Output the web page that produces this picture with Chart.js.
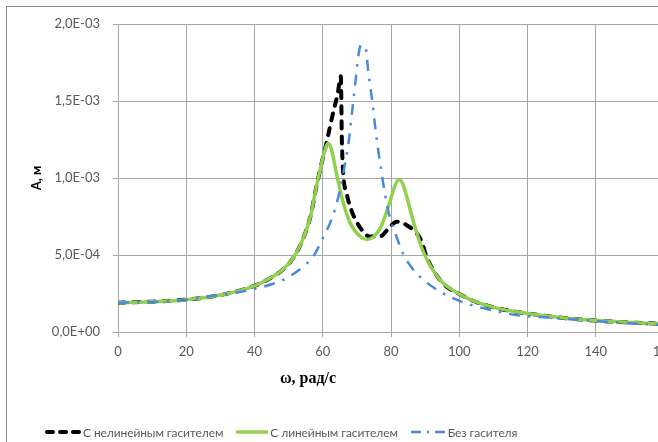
<!DOCTYPE html>
<html lang="ru">
<head>
<meta charset="utf-8">
<title>Амплитуда колебаний</title>
<script src="https://cdn.jsdelivr.net/npm/chart.js@4.4.1/dist/chart.umd.min.js"></script>
<style>
  html, body { margin: 0; padding: 0; background: #fff; width: 658px; height: 442px; overflow: hidden; }
  .frame { position: absolute; left: 6px; top: 6px; width: 720px; height: 520px; border: 1px solid #8c8c8c; }
  .plot { position: absolute; left: 0; top: 0; width: 700px; height: 442px; }
  .x-title {
    position: absolute; left: 308px; top: 378px; transform: translate(-50%, -50%);
    font: bold 16px "Liberation Serif", "DejaVu Serif", serif; color: #000; white-space: nowrap;
  }
  .legend {
    position: absolute; left: 45px; top: 424px; height: 16px; display: flex; align-items: center;
    font: 12px Lato, "Open Sans", sans-serif; letter-spacing: -0.1px; color: #595959; white-space: nowrap;
  }
  .legend .item { display: flex; align-items: center; margin-right: 13px; }
  .legend svg { margin-right: 2px; }
</style>
</head>
<body>
<div class="frame"></div>
<div class="plot"><canvas id="chart" width="700" height="442"></canvas></div>
<div class="x-title">ω, рад/с</div>
<div class="legend">
  <span class="item">
    <svg width="36" height="8"><line x1="2" y1="4" x2="34" y2="4" stroke="#000" stroke-width="4" stroke-linecap="round" stroke-dasharray="6 7"/></svg>
    С нелинейным гасителем
  </span>
  <span class="item">
    <svg width="32" height="8"><line x1="0" y1="4" x2="32" y2="4" stroke="#92d050" stroke-width="3.5"/></svg>
    С линейным гасителем
  </span>
  <span class="item">
    <svg width="35" height="8"><line x1="0" y1="4" x2="35" y2="4" stroke="#4a89dc" stroke-width="2.5" stroke-dasharray="10 6 2 6"/></svg>
    Без гасителя
  </span>
</div>
<script>
// ω, rad/s and amplitude A, m for each case
const omegaNonlinear = [0, 10, 20, 30, 40, 45, 48, 51, 53, 55, 56.5, 58, 59.5, 61, 63, 64.4, 65.3, 65.6, 66, 67, 68.4,
  70.9, 73.8, 76.7, 79.6, 81.6, 84.5, 87.9, 89, 90.4, 93, 96, 100, 104, 110, 120, 130, 140, 150, 160];
const ampNonlinear = [1.9e-4, 1.97e-4, 2.1e-4, 2.4e-4, 3.0e-4, 3.55e-4, 4.0e-4, 4.7e-4, 5.45e-4, 6.5e-4, 7.6e-4,
  9.3e-4, 1.08e-3, 1.22e-3, 1.42e-3, 1.55e-3, 1.66e-3, 1.25e-3, 1.03e-3, 9.0e-4, 7.9e-4, 6.8e-4, 6.2e-4, 6.2e-4,
  6.8e-4, 7.16e-4, 6.95e-4, 6.3e-4, 5.85e-4, 4.9e-4, 3.8e-4, 3.0e-4, 2.47e-4, 2.03e-4, 1.6e-4, 1.2e-4, 9.3e-5,
  7.4e-5, 6.2e-5, 5.2e-5];

const omegaLinear = [0, 10, 20, 30, 40, 45, 48, 51, 53, 55, 56.5, 58, 59.5, 60.5, 61.5, 62.5, 64, 66, 68, 71, 73, 75,
  77, 79.6, 81, 82.3, 83.5, 84.6, 86.4, 89.3, 94.3, 100, 104, 110, 120, 130, 140, 150, 160];
const ampLinear = [1.9e-4, 1.97e-4, 2.1e-4, 2.4e-4, 3.0e-4, 3.55e-4, 4.0e-4, 4.7e-4, 5.45e-4, 6.5e-4, 7.6e-4, 9.3e-4,
  1.08e-3, 1.17e-3, 1.225e-3, 1.19e-3, 1.03e-3, 8.4e-4, 7.1e-4, 6.2e-4, 6.0e-4, 6.2e-4, 6.8e-4, 8.4e-4, 9.4e-4,
  9.9e-4, 9.6e-4, 8.8e-4, 7.3e-4, 5.3e-4, 3.4e-4, 2.47e-4, 2.03e-4, 1.6e-4, 1.2e-4, 9.3e-5, 7.4e-5, 6.2e-5, 5.2e-5];

const omegaFree = [0, 10, 18, 28, 38, 45, 49, 54, 57.5, 59.8, 61.6, 63.5, 65, 66.5, 67.5, 68.6, 69.7, 70.4, 71.2, 72.6,
  73.3, 74.6, 75.7, 77.2, 78.2, 79.6, 81.6, 83.5, 86, 88.9, 92.8, 97.2, 102, 107, 116.7, 126.5, 136.3, 146, 155, 160];
const ampFree = [1.9e-4, 1.95e-4, 2.05e-4, 2.35e-4, 2.7e-4, 3.1e-4, 3.45e-4, 4.2e-4, 5.0e-4, 6.0e-4, 6.8e-4, 7.9e-4,
  9.2e-4, 1.09e-3, 1.22e-3, 1.43e-3, 1.65e-3, 1.79e-3, 1.864e-3, 1.84e-3, 1.70e-3, 1.485e-3, 1.27e-3, 1.04e-3, 9.0e-4,
  7.5e-4, 6.2e-4, 5.1e-4, 4.2e-4, 3.5e-4, 2.84e-4, 2.29e-4, 1.86e-4, 1.55e-4, 1.1e-4, 9.3e-5, 7.8e-5, 6.2e-5, 5.0e-5, 4.6e-5];

const seriesNames = ["С нелинейным гасителем", "С линейным гасителем", "Без гасителя"];
const xTicks = { min: 0, max: 160, step: 20 };
const yTicks = { min: 0, max: 0.002, step: 0.0005 };

const toPoints = (xs, ys) => xs.map((x, i) => ({ x, y: ys[i] }));

// 0.0015 -> "1,5E-03"
function sciLabel(v) {
  if (Math.abs(v) < 1e-12) return "0,0E+00";
  const [m, e] = Number(v).toExponential(1).split("e");
  const n = parseInt(e, 10);
  return m.replace(".", ",") + "E" + (n < 0 ? "-" : "+") + String(Math.abs(n)).padStart(2, "0");
}

const gridColor = "#a6a6a6";
const tickFont = { family: "Lato, 'Open Sans', sans-serif", size: 13 };

new Chart(document.getElementById("chart"), {
  type: "line",
  data: {
    datasets: [
      {
        label: seriesNames[0],
        data: toPoints(omegaNonlinear, ampNonlinear),
        borderColor: "#000",
        borderWidth: 4,
        borderDash: [7, 8],
        borderCapStyle: "round",
        order: 3,
      },
      {
        label: seriesNames[1],
        data: toPoints(omegaLinear, ampLinear),
        borderColor: "#92d050",
        borderWidth: 3.5,
        order: 2,
      },
      {
        label: seriesNames[2],
        data: toPoints(omegaFree, ampFree),
        borderColor: "#4a89dc",
        borderWidth: 2.5,
        borderDash: [11, 8, 2.5, 8],
        order: 1,
      },
    ],
  },
  options: {
    responsive: false,
    animation: false,
    devicePixelRatio: 1,
    layout: { padding: { left: 6, right: 36, top: 24, bottom: 70 } },
    elements: {
      point: { radius: 0, hoverRadius: 0 },
      line: { cubicInterpolationMode: "monotone", fill: false },
    },
    plugins: { legend: { display: false }, tooltip: { enabled: false } },
    scales: {
      x: {
        type: "linear",
        min: xTicks.min,
        max: xTicks.max,
        afterFit: (s) => { s.height = 40; },
        ticks: { stepSize: xTicks.step, color: "#595959", font: tickFont, padding: 7, maxRotation: 0 },
        grid: { color: gridColor, tickLength: 5 },
        border: { color: gridColor },
      },
      y: {
        min: yTicks.min,
        max: yTicks.max,
        afterFit: (s) => { s.width = 112; },
        ticks: { stepSize: yTicks.step, color: "#595959", font: tickFont, padding: 13, callback: sciLabel },
        grid: { color: gridColor, tickLength: 5 },
        border: { color: gridColor },
        title: {
          display: true,
          text: "А, м",
          color: "#000",
          font: { family: "Lato, sans-serif", size: 13, weight: "bold" },
          padding: { top: 23, bottom: 0 },
        },
      },
    },
  },
});
</script>
</body>
</html>
